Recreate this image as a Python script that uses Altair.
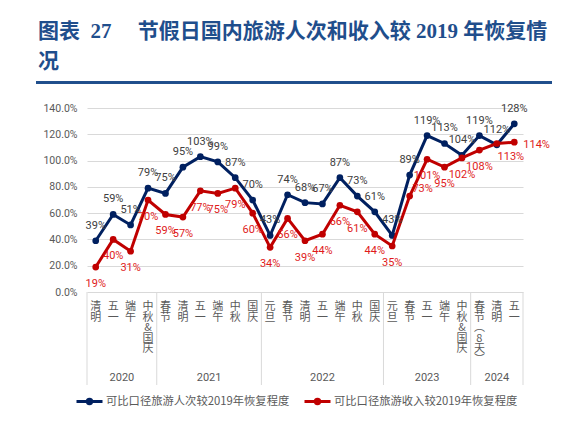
import altair as alt
import pandas as pd

# ---------------- data ----------------
categories = ["清明", "五一", "端午", "中秋&国庆",
              "春节", "清明", "五一", "端午", "中秋", "国庆",
              "元旦", "春节", "清明", "五一", "端午", "中秋", "国庆",
              "元旦", "春节", "五一", "端午", "中秋&国庆",
              "春节（8天）", "清明", "五一"]
years = ["2020"] * 4 + ["2021"] * 6 + ["2022"] * 7 + ["2023"] * 5 + ["2024"] * 3
trips = [39, 59, 51, 79, 75, 95, 103, 99, 87, 70, 43, 74, 68, 67, 87, 73, 61,
         43, 89, 119, 113, 104, 119, 112, 128]
revenue = [19, 40, 31, 70, 59, 57, 77, 75, 79, 60, 34, 56, 39, 44, 66, 61, 44,
           35, 73, 101, 95, 102, 108, 113, 114]
series_names = ["可比口径旅游人次较2019年恢复程度", "可比口径旅游收入较2019年恢复程度"]
y_ticks = [0, 0.2, 0.4, 0.6, 0.8, 1.0, 1.2, 1.4]
title_lines = ["图表\u00a0\u00a027\u3000\u00a0节假日国内旅游人次和收入较\u00a02019\u00a0年恢复情",
               "况"]

# ---------------- tables ----------------
rows = []
for i in range(len(categories)):
    rows.append({"idx": i, "series": series_names[0], "value": trips[i] / 100,
                 "label": f"{trips[i]}%"})
    rows.append({"idx": i, "series": series_names[1], "value": revenue[i] / 100,
                 "label": f"{revenue[i]}%"})
df = pd.DataFrame(rows)


def vertical(s):
    s = s.replace("（", "︵").replace("）", "︶")
    return "\n".join(list(s))


cat_df = pd.DataFrame({"idx": list(range(len(categories))),
                       "vlabel": [vertical(c) for c in categories]})

year_order = []
for yv in years:
    if yv not in year_order:
        year_order.append(yv)
yr_rows, bounds = [], [-0.5]
for yv in year_order:
    idxs = [i for i, v in enumerate(years) if v == yv]
    yr_rows.append({"mid": (idxs[0] + idxs[-1]) / 2, "year": yv})
    bounds.append(idxs[-1] + 0.5)
year_df = pd.DataFrame(yr_rows)
bound_df = pd.DataFrame({"b": bounds})

# ---------------- styling ----------------
W, H = 436, 184
BLUE, RED = "#002060", "#C00000"
GREY = "#595959"
TITLE_C = "#1F4E8C"
CJK = "Noto Sans CJK SC"
NUM = "Roboto"
LAB_RED = "#E01B1B"

xs = alt.Scale(domain=[-0.5, 24.5], nice=False, zero=False)
x = alt.X("idx:Q", scale=xs, axis=None)
y = alt.Y("value:Q", scale=alt.Scale(domain=[0, 1.4], nice=False),
          axis=alt.Axis(format=".1%", values=y_ticks, grid=True, gridColor="#D9D9D9",
                        domain=False, ticks=False, labelColor=GREY, labelFontSize=10.5,
                        labelFont=NUM, labelPadding=10, title=None))

SYM = "M-1,0H1M0.17,0A0.17,0.17,0,1,1,-0.17,0A0.17,0.17,0,1,1,0.17,0Z"


def series_layers(k, col, lx):
    sub = alt.Chart(df).transform_filter(alt.datum.series == series_names[k])
    cs = alt.Scale(domain=[series_names[k]], range=[col])
    leg = alt.Legend(orient="none", legendX=lx, legendY=H + 95, direction="horizontal",
                     title=None, symbolType=SYM, symbolSize=676, symbolStrokeWidth=3,
                     symbolFillColor=col, symbolStrokeColor=col, symbolOpacity=1,
                     labelFontSize=11.3, labelColor=GREY, labelFont=CJK, labelOffset=2,
                     labelLimit=400, padding=0)
    ln = sub.mark_line(strokeWidth=3, color=col).encode(x=x, y=y)
    pt = sub.mark_point(filled=True, size=45, opacity=1).encode(
        x=x, y=y, color=alt.Color("series:N", scale=cs, legend=leg))
    return alt.layer(ln, pt)


blue_layers = series_layers(0, BLUE, -12)
red_layers = series_layers(1, RED, 216)

base = alt.Chart(df)
blue_lab = base.transform_filter(alt.datum.series == series_names[0]).mark_text(
    dy=-15, color="#404040", font=NUM, fontSize=11).encode(x=x, y=y, text="label:N")
red_lab = base.transform_filter(
    (alt.datum.series == series_names[1]) & (alt.datum.idx != 18)
    & (alt.datum.idx != 23) & (alt.datum.idx != 24)).mark_text(
    dy=17, color=LAB_RED, font=NUM, fontSize=11).encode(x=x, y=y, text="label:N")
red_lab_shift = base.transform_filter(
    (alt.datum.series == series_names[1]) & (alt.datum.idx == 23)).mark_text(
    dy=14, dx=14, color=LAB_RED, font=NUM, fontSize=11).encode(x=x, y=y, text="label:N")
red_lab_up = base.transform_filter(
    (alt.datum.series == series_names[1]) & (alt.datum.idx == 18)).mark_text(
    dy=-7, dx=13, color=LAB_RED, font=NUM, fontSize=11).encode(x=x, y=y, text="label:N")
red_lab_right = base.transform_filter(
    (alt.datum.series == series_names[1]) & (alt.datum.idx == 24)).mark_text(
    dy=3, dx=9, align="left", color=LAB_RED, font=NUM, fontSize=11).encode(
    x=x, y=y, text="label:N")

cat_text = alt.Chart(cat_df).mark_text(
    baseline="top", lineBreak="\n", fontSize=11, lineHeight=10.5, color=GREY, font=CJK
).encode(x=alt.X("idx:Q", scale=xs, axis=None), y=alt.value(H + 9), text="vlabel:N")

year_text = alt.Chart(year_df).mark_text(
    fontSize=11, color=GREY, font=NUM).encode(
    x=alt.X("mid:Q", scale=xs, axis=None), y=alt.value(H + 86), text="year:N")

seps = alt.Chart(bound_df).mark_rule(color="#D9D9D9", strokeWidth=1).encode(
    x=alt.X("b:Q", scale=xs, axis=None), y=alt.value(H), y2=alt.value(H + 93))

title_rule = alt.Chart(bound_df).mark_rule(color=TITLE_C, strokeWidth=2).encode(
    x=alt.value(-51), x2=alt.value(465), y=alt.value(-25.5))

chart = alt.layer(
    seps, title_rule, blue_layers, red_layers, blue_lab, red_lab, red_lab_shift,
    red_lab_up, red_lab_right, cat_text, year_text
).resolve_scale(color="independent").properties(
    width=W, height=H,
    padding={"left": 79, "top": 100, "right": 43, "bottom": 122},
    autosize=alt.AutoSizeParams(type="none"),
    title=alt.TitleParams(
        text=title_lines, anchor="start", frame="group",
        font="Liberation Serif, Noto Sans CJK SC", fontSize=21, fontWeight="bold",
        color=TITLE_C, lineHeight=30, offset=10, dx=-49),
).configure_view(stroke=None)

chart.save("out.html", embed_options={"renderer": "svg", "actions": False})
